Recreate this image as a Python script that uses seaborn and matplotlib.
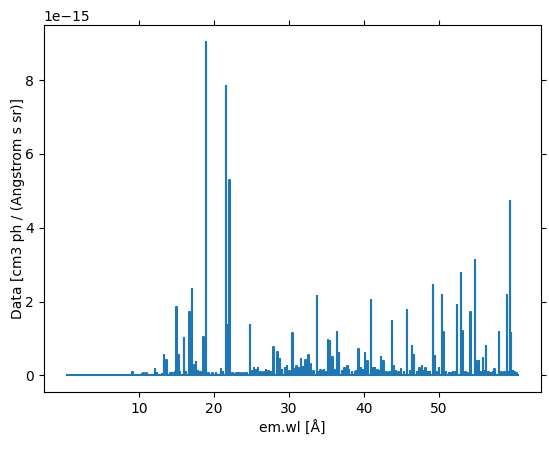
import numpy as np
import pandas as pd
import seaborn as sns
import matplotlib.pyplot as plt

# wavelength range of the spectrum [Angstrom]
wl_start, wl_end = 0.36, 60.55

# emission line positions [Angstrom] and peak fluxes [1e-15 cm3 ph / (Angstrom s sr)]
line_wl = [9.17, 10.45, 10.65, 11.0, 12.13, 12.4, 13.38, 13.7, 14.8, 15.01, 15.26,
           16.0, 16.78, 17.05, 17.1, 17.4, 17.64, 18.63, 18.97, 19.82, 20.93,
           21.6, 21.8, 22.1, 22.9, 23.38, 24.1, 24.78, 25.38, 25.9, 26.93,
           27.96, 28.49, 28.79, 29.5, 29.75, 30.47, 31.0, 31.6, 32.2, 32.62,
           32.9, 33.74, 34.2, 34.7, 35.22, 35.45, 35.8, 36.4, 36.7, 37.4, 37.8,
           38.4, 39.25, 39.6, 40.13, 40.5, 40.93, 41.2, 41.5, 42.3, 42.6, 43.0,
           43.75, 44.0, 44.6, 44.97, 45.7, 46.4, 46.7, 47.4, 47.7, 48.2, 49.2,
           49.5, 50.0, 50.4, 50.6, 51.3, 52.4, 52.95, 53.1, 53.5, 54.2, 54.8,
           55.0, 55.3, 55.85, 56.27, 57.4, 57.96, 58.7, 59.07, 59.47, 59.62, 60.04]
line_flux = [0.08, 0.04, 0.05, 0.05, 0.16, 0.05, 0.55, 0.41, 0.1, 1.85, 0.56,
             1.0, 1.72, 2.33, 2.2, 0.27, 0.37, 1.05, 9.04, 0.07, 0.17,
             7.83, 1.36, 5.29, 0.04, 0.06, 0.05, 1.36, 0.2, 0.2, 0.14,
             0.77, 0.62, 0.45, 0.2, 0.25, 1.16, 0.25, 0.45, 0.42, 0.54,
             0.3, 2.14, 0.15, 0.15, 0.97, 0.92, 0.5, 1.18, 0.6, 0.2, 0.25,
             0.1, 0.7, 0.2, 0.6, 0.4, 2.03, 0.2, 0.2, 0.5, 0.4, 0.1,
             1.46, 0.25, 0.1, 0.18, 1.76, 0.79, 0.55, 0.2, 0.25, 0.2, 2.46,
             0.52, 0.2, 2.17, 1.18, 0.05, 1.9, 2.77, 1.2, 0.1, 1.71, 3.13,
             0.4, 0.4, 0.48, 0.8, 0.17, 1.18, 0.08, 2.19, 4.73, 1.15, 0.08]

# weak features filling the pseudo-continuum between the lines
weak_wl = [13.1, 14.2, 14.5, 15.5, 16.3, 17.9, 18.2, 19.3, 20.3, 21.2, 22.5,
           23.0, 23.7, 24.4, 25.1, 25.6, 26.2, 26.6, 27.3, 27.6, 29.1, 30.1,
           30.8, 31.3, 31.9, 33.3, 34.0, 34.4, 35.0, 36.1, 37.1, 38.0, 38.8,
           39.0, 39.9, 41.8, 42.1, 42.9, 43.4, 44.3, 45.3, 46.1, 47.1, 47.9,
           48.5, 48.8, 49.8, 50.9, 51.6, 51.9, 52.2, 53.8, 55.6, 56.0, 56.6,
           56.9, 57.2, 58.3, 59.3, 59.85, 60.3]
weak_flux = [0.04, 0.06, 0.05, 0.08, 0.1, 0.12, 0.08, 0.06, 0.05, 0.08, 0.07,
             0.05, 0.06, 0.07, 0.12, 0.14, 0.1, 0.08, 0.12, 0.1, 0.15, 0.12,
             0.18, 0.2, 0.22, 0.12, 0.1, 0.12, 0.1, 0.15, 0.12, 0.15, 0.1,
             0.12, 0.15, 0.15, 0.12, 0.1, 0.08, 0.12, 0.1, 0.12, 0.08, 0.12,
             0.1, 0.08, 0.1, 0.08, 0.06, 0.08, 0.1, 0.06, 0.1, 0.12, 0.08,
             0.06, 0.1, 0.08, 0.1, 0.12, 0.06]

half_bin = 0.03

# merge strong and weak features, sorted by wavelength
feat = sorted(zip(line_wl + weak_wl, line_flux + weak_flux))

# build binned spectrum: flat zero baseline with one narrow bin per feature
wl = [wl_start]
flux = [0.0]
for w, f in feat:
    wl += [w - half_bin, w - half_bin, w + half_bin, w + half_bin]
    flux += [0.0, f, f, 0.0]
wl.append(wl_end)
flux.append(0.0)

df = pd.DataFrame({'wl': wl, 'flux': np.array(flux) * 1e-15})

fig, ax = plt.subplots(figsize=(5.49, 4.49), dpi=100)
fig.subplots_adjust(left=0.080, right=0.985, bottom=0.127, top=0.944)

sns.lineplot(data=df, x='wl', y='flux', estimator=None, sort=False,
             color='#1f77b4', linewidth=1.5, ax=ax)

ax.set_xticks([10, 20, 30, 40, 50])
ax.set_yticks(np.array([0, 2, 4, 6, 8]) * 1e-15)
ax.tick_params(top=True, right=True, direction='out')
ax.set_xlabel('em.wl [Å]')
ax.set_ylabel('Data [cm3 ph / (Angstrom s sr)]', labelpad=0)

plt.savefig('out.png', dpi=100)
